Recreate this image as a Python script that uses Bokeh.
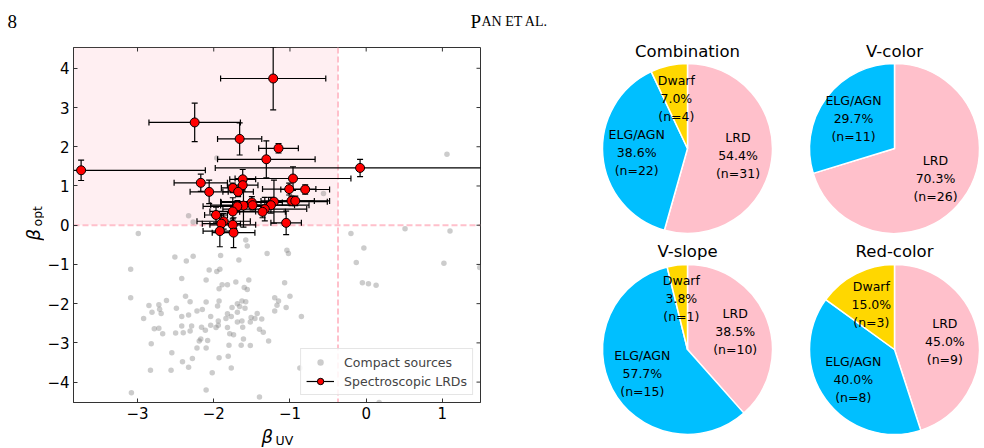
import numpy as np
from bokeh.plotting import figure
from bokeh.models import Range1d, FixedTicker, ColumnDataSource, Span, BoxAnnotation, Legend, LegendItem
from bokeh.layouts import row, column
from bokeh.embed import file_html
from bokeh.resources import INLINE
from bokeh.core.properties import value

# ---------------- data ----------------
COMPACT_BUV = [-2.33, -2.27, -2.99, -2.51, -2.36, -2.27, -3.09, -2.06, -1.96, -1.92,
               -1.67, -1.91, -1.58, -1.56, -1.30, -1.04, -1.02, -1.07, -1.00, -1.20,
               -1.15, -1.17, -1.20, -0.85, -2.42, -2.10, -1.54, -1.71, -1.82, -1.89,
               -1.93, -1.60, -1.56, -2.37, -3.09, -2.62, -2.72, -2.49, -2.31, -2.15,
               -2.10, -1.93, -1.95, -1.82, -1.76, -1.69, -1.63, -1.58, -1.59, -1.66,
               -1.69, -1.77, -1.94, -1.84, -2.04, -2.22, -2.85, -2.92, -2.81, -2.69,
               -2.71, -2.42, -2.33, -2.29, -2.11, -2.16, -2.17, -2.08, -2.04, -1.97,
               -1.94, -1.82, -1.79, -1.74, -1.69, -1.63, -1.62, -1.52, -1.51, -1.46,
               -1.43, -1.37, -1.40, -1.35, -1.28, -1.61, -1.64, -1.52, -1.80, -1.81,
               -1.93, -2.19, -2.22, -2.10, -2.28, -2.33, -2.41, -2.56, -2.67, -2.78,
               -2.72, -2.82, -2.50, -2.42, -2.40, -2.31, -2.55, -2.83, -3.08, -2.10,
               -2.02, -1.77, -1.40, -0.20, -0.03, -0.13, -0.05, 0.03, 0.13, 0.51,
               1.10, 1.02, 1.49, -1.05, -0.87, 0.17, 1.06, -0.56, -1.96]
COMPACT_BOPT = [0.24, 0.08, -0.21, -0.81, -0.91, -0.79, -1.12, -1.14, -1.18, -1.12,
                -0.89, -0.77, -0.38, -0.53, -0.72, -0.64, -0.72, -1.47, -1.81, -1.85,
                -1.93, -2.04, -2.19, -2.33, -1.36, -1.40, -1.40, -1.45, -1.52, -1.52,
                -1.62, -1.59, -1.64, -1.81, -1.85, -1.92, -2.03, -2.12, -1.95, -2.15,
                -1.96, -1.93, -2.06, -2.26, -2.10, -2.00, -1.93, -1.95, -2.12, -2.07,
                -2.22, -2.33, -2.44, -2.38, -2.33, -2.19, -2.05, -2.38, -2.22, -2.25,
                -2.14, -2.33, -2.29, -2.57, -2.68, -2.60, -2.90, -2.94, -2.55, -2.61,
                -2.55, -2.61, -2.77, -2.79, -2.47, -2.44, -2.60, -2.47, -2.35, -2.38,
                -2.25, -2.39, -2.65, -2.73, -2.95, -2.90, -3.06, -3.07, -3.06, -3.34,
                -3.38, -2.95, -3.13, -3.13, -3.40, -3.62, -3.48, -3.70, -2.77, -2.64,
                -2.63, -3.02, -2.75, -2.57, -2.74, -2.70, -3.25, -3.70, -4.27, -4.20,
                -3.76, -3.64, -4.38, -0.21, -0.58, -0.95, -1.47, -1.49, -1.53, -0.09,
                -0.15, -0.97, -1.08, -2.10, -3.64, -4.52, 1.81, 0.81, 1.71]

LRD_BUV = [-1.22, -2.25, -1.66, -1.15, -1.31, -3.74, -0.08, -2.17, -2.06, -1.62,
           -1.62, -1.75, -1.68, -0.96, -1.01, -0.80, -0.98, -0.93, -1.50, -1.61,
           -1.69, -1.49, -1.21, -1.25, -1.33, -1.36, -1.75, -1.97, -1.87, -1.90,
           -1.75, -1.92, -1.74, -1.05]
LRD_BOPT = [3.74, 2.62, 2.20, 1.96, 1.68, 1.40, 1.46, 1.08, 0.85, 1.17,
            1.02, 0.95, 0.85, 1.19, 0.92, 0.91, 0.62, 0.62, 0.58, 0.50,
            0.48, 0.51, 0.60, 0.51, 0.41, 0.34, 0.35, 0.26, 0.10, 0.04,
            0.01, -0.15, -0.19, 0.06]
LRD_BUV_ERR = [0.69, 0.60, 0.29, 0.26, 0.64, 1.63, 1.90, 0.35, 0.25, 0.17,
               0.20, 0.15, 0.20, 0.76, 0.35, 0.32, 0.30, 0.45, 0.40, 0.30,
               0.45, 0.55, 0.70, 0.50, 0.55, 0.30, 0.30, 0.15, 0.35, 0.25,
               0.30, 0.22, 0.28, 0.20]
LRD_BOPT_ERR = [0.80, 0.49, 0.41, 0.12, 0.47, 0.26, 0.22, 0.22, 0.30, 0.25,
                0.15, 0.12, 0.12, 0.30, 0.15, 0.12, 0.12, 0.12, 0.15, 0.55,
                0.15, 0.12, 0.55, 0.20, 0.30, 0.15, 0.35, 0.20, 0.20, 0.25,
                0.15, 0.40, 0.38, 0.30]

BUV_CUT = -0.37
BOPT_CUT = 0.0
X_TICKS = [-3, -2, -1, 0, 1]
Y_TICKS = [-4, -3, -2, -1, 0, 1, 2, 3, 4]

CATEGORIES = ["LRD", "ELG/AGN", "Dwarf"]
CATEGORY_COLORS = ["#FFC0CB", "#00BFFF", "#FFD700"]
PIE_TITLES = ["Combination", "V-color", "V-slope", "Red-color"]
COUNTS_COMBINATION = [31, 22, 4]
COUNTS_VCOLOR = [26, 11, 0]
COUNTS_VSLOPE = [10, 15, 1]
COUNTS_REDCOLOR = [9, 8, 3]

FONT = "DejaVu Sans"
SERIF = "Liberation Serif"
AXIS_COLOR = "#333333"


def blank(width, height):
    """A figure whose data units are pixels, used for free text."""
    f = figure(width=width, height=height, x_range=Range1d(0, width), y_range=Range1d(0, height),
               output_backend="svg", toolbar_location=None, min_border=0,
               x_axis_location=None, y_axis_location=None)
    f.grid.visible = False
    f.outline_line_color = None
    f.frame_align = False
    return f


def minus(t):
    return str(t).replace("-", "\u2212")


# ---------------- header ----------------
head = blank(560, 40)
head.text(x=[7], y=[19], text=["8"], text_font=value(SERIF), text_font_size="19px",
          text_baseline="alphabetic", text_align="left", text_color="black")
head.text(x=[470], y=[19], text=["P"], text_font=value(SERIF), text_font_size="19px",
          text_baseline="alphabetic", text_align="left", text_color="black")
head.text(x=[481], y=[19], text=["AN ET AL."], text_font=value(SERIF), text_font_size="14px",
          text_baseline="alphabetic", text_align="left", text_color="black")

# ---------------- scatter panel ----------------
X_RANGE = (-3.84, 1.5)
Y_RANGE = (-4.52, 4.53)
p1 = figure(width=516, height=382, x_range=Range1d(*X_RANGE), y_range=Range1d(*Y_RANGE),
            output_backend="svg", toolbar_location=None,
            min_border_left=28, min_border_right=80, min_border_top=7, min_border_bottom=20)
p1.frame_align = False
p1.xgrid.visible = False
p1.ygrid.visible = False
p1.outline_line_color = AXIS_COLOR
p1.background_fill_color = "white"

p1.xaxis.ticker = FixedTicker(ticks=X_TICKS)
p1.xaxis.major_label_overrides = {t: minus(t) for t in X_TICKS}
p1.yaxis.ticker = FixedTicker(ticks=Y_TICKS)
p1.yaxis.major_label_overrides = {t: minus(t) for t in Y_TICKS}
for ax in [p1.xaxis[0], p1.yaxis[0]]:
    ax.major_tick_in = 4
    ax.major_tick_out = 0
    ax.minor_tick_in = 0
    ax.minor_tick_out = 0
    ax.axis_line_color = AXIS_COLOR
    ax.major_tick_line_color = AXIS_COLOR
    ax.major_label_text_font = FONT
    ax.major_label_text_font_size = "15px"
    ax.major_label_text_color = "black"
p1.xaxis.major_label_standoff = 4
p1.yaxis.major_label_standoff = 4

box = BoxAnnotation(left=X_RANGE[0], right=BUV_CUT, bottom=BOPT_CUT, top=Y_RANGE[1],
                    fill_color="pink", fill_alpha=0.25, line_alpha=0, level="underlay")
p1.add_layout(box)
p1.add_layout(Span(location=BUV_CUT, dimension="height", line_color="pink",
                   line_dash="6 3", line_width=2, level="underlay"))
p1.add_layout(Span(location=BOPT_CUT, dimension="width", line_color="pink",
                   line_dash="6 3", line_width=2, level="underlay"))

# inward ticks on the top and right edges (half of each marker is clipped by the frame)
p1.scatter(x=X_TICKS, y=[Y_RANGE[1]] * len(X_TICKS), marker="dash", angle=np.pi / 2,
           size=8, line_color=AXIS_COLOR, line_width=1)
p1.scatter(x=[X_RANGE[1]] * len(Y_TICKS), y=Y_TICKS, marker="dash",
           size=8, line_color=AXIS_COLOR, line_width=1)

grey = p1.scatter(x=COMPACT_BUV, y=COMPACT_BOPT, size=5.5, fill_color="gray",
                  fill_alpha=0.4, line_color=None)

x = np.array(LRD_BUV)
y = np.array(LRD_BOPT)
xe = np.array(LRD_BUV_ERR)
ye = np.array(LRD_BOPT_ERR)
src = ColumnDataSource(dict(x=x, y=y, xl=x - xe, xh=x + xe, yl=y - ye, yh=y + ye))
xseg = p1.segment(x0="xl", y0="y", x1="xh", y1="y", source=src, line_color="black", line_width=1.2)
yseg = p1.segment(x0="x", y0="yl", x1="x", y1="yh", source=src, line_color="black", line_width=1.2)
p1.scatter(x="xl", y="y", source=src, marker="dash", angle=np.pi / 2, size=6, line_color="black", line_width=1.2)
p1.scatter(x="xh", y="y", source=src, marker="dash", angle=np.pi / 2, size=6, line_color="black", line_width=1.2)
p1.scatter(x="x", y="yl", source=src, marker="dash", size=6, line_color="black", line_width=1.2)
p1.scatter(x="x", y="yh", source=src, marker="dash", size=6, line_color="black", line_width=1.2)
red = p1.scatter(x="x", y="y", source=src, size=9, fill_color="red", line_color="black", line_width=1)

legend = Legend(items=[LegendItem(label="Compact sources", renderers=[grey]),
                       LegendItem(label="Spectroscopic LRDs", renderers=[xseg, red])],
                location="bottom_right")
legend.label_text_font = FONT
legend.label_text_font_size = "12.5px"
legend.border_line_color = "#cccccc"
legend.border_line_width = 1
legend.background_fill_alpha = 0.85
legend.padding = 5
legend.spacing = 3
legend.margin = 7
legend.glyph_width = 28
legend.glyph_height = 16
legend.label_height = 16
legend.label_standoff = 10
p1.add_layout(legend)

# ---------------- axis label strips ----------------
ylab = blank(44, 382)   # page x 0..44, page y 40..422
ylab.text(x=[33], y=[182], text=["\u03b2"], angle=np.pi / 2, text_font=value(FONT),
          text_font_style="italic", text_font_size="18px", text_baseline="alphabetic",
          text_align="left", text_color="black")
ylab.text(x=[36.5], y=[196], text=["opt"], angle=np.pi / 2, text_font=value(FONT),
          text_font_size="12.5px", text_baseline="alphabetic", text_align="left",
          text_color="black")

xlab = blank(560, 26)   # page y 422..448
xlab.text(x=[261], y=[12], text=["\u03b2"], text_font=value(FONT), text_font_style="italic",
          text_font_size="18px", text_baseline="alphabetic", text_align="left", text_color="black")
xlab.text(x=[275], y=[8], text=["UV"], text_font=value(FONT), text_font_size="12.5px",
          text_baseline="alphabetic", text_align="left", text_color="black")

# ---------------- pie panel ----------------
p2 = figure(width=424, height=448, x_range=Range1d(560, 984), y_range=Range1d(0, 448),
            output_backend="svg", toolbar_location=None, min_border=0,
            x_axis_location=None, y_axis_location=None)
p2.frame_align = False
p2.grid.visible = False
p2.outline_line_color = None

R = 85
CENTERS = [(687, 300), (894, 300), (687, 99), (894, 99)]
TITLE_Y = [397, 397, 197, 197]
ALL_COUNTS = [COUNTS_COMBINATION, COUNTS_VCOLOR, COUNTS_VSLOPE, COUNTS_REDCOLOR]

wx, wy, ws, we, wc = [], [], [], [], []
tx, ty, tt = [], [], []
for (cx, cy), counts in zip(CENTERS, ALL_COUNTS):
    total = sum(counts)
    angle = 90.0
    for cat, col, n in zip(CATEGORIES, CATEGORY_COLORS, counts):
        if n == 0:
            continue
        frac = n / total
        end = angle
        start = angle - frac * 360.0
        angle = start
        wx.append(cx); wy.append(cy); ws.append(start); we.append(end); wc.append(col)
        mid = np.deg2rad((start + end) / 2)
        tx.append(cx + 0.6 * R * np.cos(mid))
        ty.append(cy + 0.6 * R * np.sin(mid))
        tt.append(f"{cat}\n{100 * frac:.1f}%\n(n={n})")

p2.wedge(x=wx, y=wy, radius=R, start_angle=ws, end_angle=we, start_angle_units="deg",
         end_angle_units="deg", fill_color=wc, line_color="white", line_width=1.5)
p2.text(x=tx, y=ty, text=tt, text_font=value(FONT), text_font_size="12.5px",
        text_align="center", text_baseline="middle", text_line_height=1.2, text_color="black")
p2.text(x=[c[0] for c in CENTERS], y=TITLE_Y, text=PIE_TITLES, text_font=value(FONT),
        text_font_size="16.5px", text_align="center", text_baseline="middle", text_color="black")

left = column(head, row(ylab, p1, spacing=0), xlab, spacing=0)
layout = row(left, p2, spacing=0)
open("out.html", "w").write(file_html(layout, INLINE))
